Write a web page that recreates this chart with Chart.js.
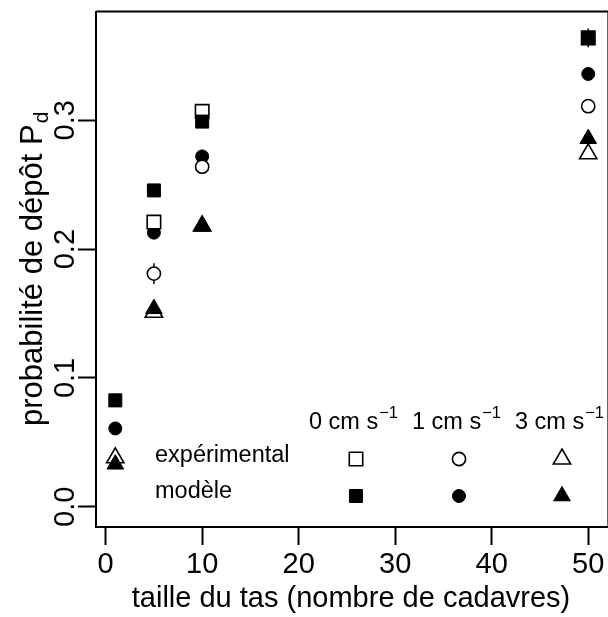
<!DOCTYPE html>
<html>
<head>
<meta charset="utf-8">
<script src="https://cdn.jsdelivr.net/npm/chart.js@4"></script>
<style>
  html, body { margin: 0; padding: 0; background: #fff; overflow: hidden; }
  #wrap { width: 608px; height: 617px; overflow: hidden; }
</style>
</head>
<body>
<div id="wrap"><canvas id="chart" width="620" height="617"></canvas></div>
<script>
// pile sizes (number of corpses)
const pileSizes = [1, 5, 10, 50];

// experimental deposit probabilities, by air speed (0, 1, 3 cm/s)
const exp0 = [null, 0.221, 0.307, 0.364];
const exp1 = [null, 0.181, 0.264, 0.311];
const exp3 = [0.038, 0.151, 0.218, 0.274];
// standard errors for the experimental points
const err0 = [null, 0.003, 0.0055, 0.0072];
const err1 = [null, 0.008, 0.003, 0.003];
const err3 = [0.003, 0.003, 0.003, 0.003];

// model predictions
const mod0 = [0.0826, 0.2456, 0.299, 0.3638];
const mod1 = [0.0608, 0.2128, 0.272, 0.336];
const mod3 = [0.033, 0.1537, 0.2177, 0.2857];

const xTicks = [0, 10, 20, 30, 40, 50];
const yTicks = [0, 0.1, 0.2, 0.3];
const speedLabels = ["0 cm s", "1 cm s", "3 cm s"];
const speedExp = "\u22121";
const rowLabels = ["expérimental", "modèle"];
const xTitle = "taille du tas (nombre de cadavres)";
const yTitle = "probabilité de dépôt P";
const yTitleSub = "d";

const FONT = '"Liberation Sans", Arial, Helvetica, sans-serif';
const ink = "#000";

const marks = {
  sqOpen:  { pointStyle: "rect", radius: 9.5, fill: "#fff", borderWidth: 1.6 },
  ciOpen:  { pointStyle: "circle", radius: 6.6, fill: "#fff", borderWidth: 1.6 },
  trOpen:  { pointStyle: "triangle", radius: 10, fill: "#fff", borderWidth: 1.6 },
  sqFill:  { pointStyle: "rect", radius: 9.2, fill: ink, borderWidth: 1 },
  ciFill:  { pointStyle: "circle", radius: 6.5, fill: ink, borderWidth: 1 },
  trFill:  { pointStyle: "triangle", radius: 9.6, fill: ink, borderWidth: 1 }
};

function pts(ys) {
  return pileSizes.map((x, i) => ({ x: x, y: ys[i] }));
}

function series(label, ys, m, order, errors) {
  return {
    label: label,
    data: pts(ys),
    errors: errors || null,
    order: order,
    showLine: false,
    pointStyle: m.pointStyle,
    pointRadius: m.radius,
    pointBackgroundColor: m.fill,
    pointBorderColor: ink,
    pointBorderWidth: m.borderWidth
  };
}

function drawMark(ctx, m, x, y) {
  ctx.save();
  ctx.fillStyle = m.fill;
  ctx.strokeStyle = ink;
  ctx.lineWidth = m.borderWidth;
  Chart.helpers.drawPoint(ctx, { pointStyle: m.pointStyle, radius: m.radius, rotation: 0, borderWidth: m.borderWidth }, x, y);
  ctx.restore();
}

const annotate = {
  id: "annotate",
  beforeDatasetDraw(chart, args) {
    const ds = chart.data.datasets[args.index];
    if (!ds.errors) return;
    const xs = chart.scales.x, ys = chart.scales.y, ctx = chart.ctx;
    ctx.save();
    ctx.strokeStyle = ink;
    ctx.lineWidth = 1.5;
    ds.data.forEach((p, i) => {
      const e = ds.errors[i];
      if (p.y == null || e == null) return;
      const px = xs.getPixelForValue(p.x);
      ctx.beginPath();
      ctx.moveTo(px, ys.getPixelForValue(p.y - e));
      ctx.lineTo(px, ys.getPixelForValue(p.y + e));
      ctx.stroke();
    });
    ctx.restore();
  },
  afterDraw(chart) {
    const ctx = chart.ctx, a = chart.chartArea;
    const xs = chart.scales.x, ys = chart.scales.y;
    ctx.save();
    // rest of the box
    ctx.strokeStyle = ink;
    ctx.lineWidth = 2;
    ctx.beginPath();
    ctx.moveTo(a.left, a.top);
    ctx.lineTo(a.right, a.top);
    ctx.lineTo(a.right, a.bottom);
    ctx.stroke();

    ctx.fillStyle = ink;
    ctx.textBaseline = "alphabetic";
    ctx.textAlign = "center";
    ctx.font = "29px " + FONT;
    xTicks.forEach(v => ctx.fillText(String(v), xs.getPixelForValue(v), 573));
    yTicks.forEach(v => {
      ctx.save();
      ctx.translate(73.5, ys.getPixelForValue(v));
      ctx.rotate(-Math.PI / 2);
      ctx.fillText(v.toFixed(1), 0, 0);
      ctx.restore();
    });
    ctx.fillText(xTitle, 351, 607);

    // y title with subscript
    ctx.save();
    ctx.translate(42, (a.top + a.bottom) / 2);
    ctx.rotate(-Math.PI / 2);
    ctx.textAlign = "left";
    ctx.font = "31px " + FONT;
    const wMain = ctx.measureText(yTitle).width;
    ctx.font = "21px " + FONT;
    const wSub = ctx.measureText(yTitleSub).width;
    const x0 = -(wMain + wSub) / 2;
    ctx.font = "31px " + FONT;
    ctx.fillText(yTitle, x0, 0);
    ctx.font = "21px " + FONT;
    ctx.fillText(yTitleSub, x0 + wMain + 1, 6);
    ctx.restore();

    // legend
    const cols = [356, 459, 562];
    const rowsY = [459, 496];
    ctx.textAlign = "left";
    speedLabels.forEach((t, i) => {
      ctx.font = "23.5px " + FONT;
      const w1 = ctx.measureText(t).width;
      ctx.font = "16.5px " + FONT;
      const w2 = ctx.measureText(speedExp).width;
      const sx = cols[i] - 3 - (w1 + w2) / 2;
      ctx.font = "23.5px " + FONT;
      ctx.fillText(t, sx, 429);
      ctx.font = "16.5px " + FONT;
      ctx.fillText(speedExp, sx + w1 + 1, 417.5);
    });
    ctx.font = "23.5px " + FONT;
    ctx.fillText(rowLabels[0], 155, 462);
    ctx.fillText(rowLabels[1], 155, 498);
    ctx.restore();

    [marks.sqOpen, marks.ciOpen, marks.trOpen].forEach((m, i) => drawMark(ctx, m, cols[i], rowsY[0]));
    [marks.sqFill, marks.ciFill, marks.trFill].forEach((m, i) => drawMark(ctx, m, cols[i], rowsY[1]));
  }
};

const axisGrid = {
  display: true,
  drawOnChartArea: false,
  drawTicks: true,
  tickLength: 18,
  tickWidth: 2,
  tickColor: ink,
  color: ink
};

new Chart(document.getElementById("chart"), {
  type: "scatter",
  data: {
    datasets: [
      series("modèle 3", mod3, marks.trFill, 1),
      series("modèle 0", mod0, marks.sqFill, 2),
      series("expérimental 3", exp3, marks.trOpen, 3, err3),
      series("expérimental 1", exp1, marks.ciOpen, 4, err1),
      series("expérimental 0", exp0, marks.sqOpen, 5, err0),
      series("modèle 1", mod1, marks.ciFill, 6)
    ]
  },
  options: {
    responsive: false,
    animation: false,
    events: [],
    devicePixelRatio: 1,
    layout: { padding: { top: 10, right: 8, left: 0, bottom: 0 } },
    plugins: { legend: { display: false }, tooltip: { enabled: false } },
    scales: {
      x: {
        type: "linear",
        min: -1,
        max: 52.09,
        grid: axisGrid,
        border: { display: true, color: ink, width: 2 },
        ticks: { display: false },
        afterBuildTicks: s => { s.ticks = xTicks.map(v => ({ value: v })); },
        afterFit: s => { s.height = 90; }
      },
      y: {
        type: "linear",
        min: -0.0157,
        max: 0.3844,
        grid: axisGrid,
        border: { display: true, color: ink, width: 2 },
        ticks: { display: false },
        afterBuildTicks: s => { s.ticks = yTicks.map(v => ({ value: v })); },
        afterFit: s => { s.width = 96; }
      }
    }
  },
  plugins: [annotate]
});
</script>
</body>
</html>
